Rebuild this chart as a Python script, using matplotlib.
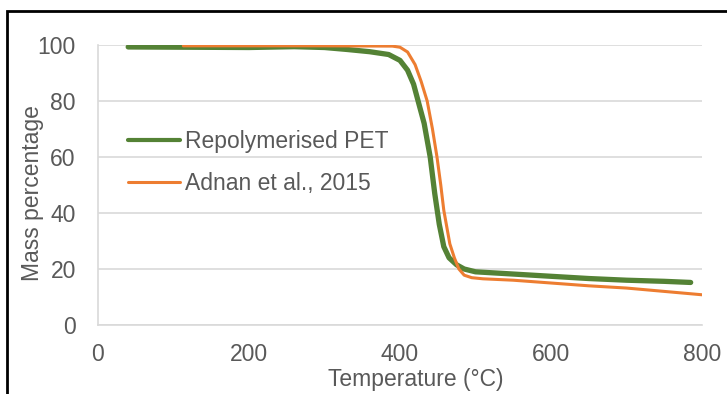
"""
Curvas TGA: PET repolimerizado frente a Adnan et al., 2015.
"""
import matplotlib
matplotlib.use("Agg")
import matplotlib.pyplot as plt
import matplotlib.patches as patches

# Datos
temp_repet = [40, 120, 200, 260, 300, 330, 360, 385, 400, 410, 418, 425, 432,
              440, 446, 452, 458, 465, 475, 485, 500, 550, 600, 650, 700, 750, 785]
mass_repet = [99.3, 99.2, 99.1, 99.4, 99.1, 98.4, 97.6, 96.6, 94.5, 91, 86, 79, 72,
              60, 47, 36, 28, 24, 21.5, 20, 19, 18.2, 17.4, 16.6, 16.0, 15.6, 15.2]

temp_adnan = [113, 200, 300, 390, 400, 410, 420, 428, 436, 443, 449, 454, 458,
              462, 466, 472, 478, 485, 495, 510, 550, 600, 650, 700, 750, 800]
mass_adnan = [99.7, 99.7, 99.7, 99.6, 99.2, 97.5, 93, 87, 80, 70, 60, 50, 41,
              35, 29, 24, 20, 17.8, 16.9, 16.5, 16.0, 15.0, 14.0, 13.2, 12.0, 10.8]

x_ticks = [0, 200, 400, 600, 800]
y_ticks = [0, 20, 40, 60, 80, 100]

colors = {'repet': '#548235', 'adnan': '#ED7D31', 'text': '#595959', 'grid': '#D9D9D9'}
fs = 16.5

plt.rcParams['font.family'] = ['Liberation Sans', 'DejaVu Sans']

fig = plt.figure(figsize=(7.27, 3.94), dpi=100)
ax = fig.add_axes([0.1348, 0.1751, 0.8308, 0.7107])

# Marco negro del recorte original
fig.patches.append(patches.Rectangle((7 / 727, -0.1), 1.2, 1.1 - 11 / 394, transform=fig.transFigure,
                                     linewidth=2, edgecolor='black', facecolor='none'))

ax.plot(temp_repet, mass_repet, color=colors['repet'], linewidth=3.8,
        solid_capstyle='round', label='Repolymerised PET')
ax.plot(temp_adnan, mass_adnan, color=colors['adnan'], linewidth=2.2,
        solid_capstyle='round', label='Adnan et al., 2015')

ax.set_xlim(0, 800)
ax.set_ylim(0, 100)
ax.set_xticks(x_ticks)
ax.set_yticks(y_ticks)
ax.grid(axis='y', color=colors['grid'], linewidth=1.2)
ax.set_axisbelow(True)
ax.tick_params(length=0, labelsize=fs, labelcolor=colors['text'])
ax.tick_params(axis='x', pad=13)
ax.tick_params(axis='y', pad=16)

for side in ['top', 'right']:
    ax.spines[side].set_visible(False)
for side in ['left', 'bottom']:
    ax.spines[side].set_color(colors['grid'])
    ax.spines[side].set_linewidth(1.2)

ax.set_xlabel('Temperature (°C)', fontsize=fs, color=colors['text'])
ax.xaxis.set_label_coords(0.526, -0.155)
ax.set_ylabel('Mass percentage', fontsize=fs, color=colors['text'])
ax.yaxis.set_label_coords(-0.09, 0.47)

leg = ax.legend(loc='center left', bbox_to_anchor=(0.03, 0.58), frameon=False, fontsize=fs,
                handlelength=2.3, handletextpad=0.2, labelspacing=0.8,
                labelcolor=colors['text'], borderpad=0)
for line in leg.get_lines():
    line.set_solid_capstyle('round')
leg.get_lines()[0].set_linewidth(3.0)

plt.savefig('out.png', dpi=100)
plt.close()
